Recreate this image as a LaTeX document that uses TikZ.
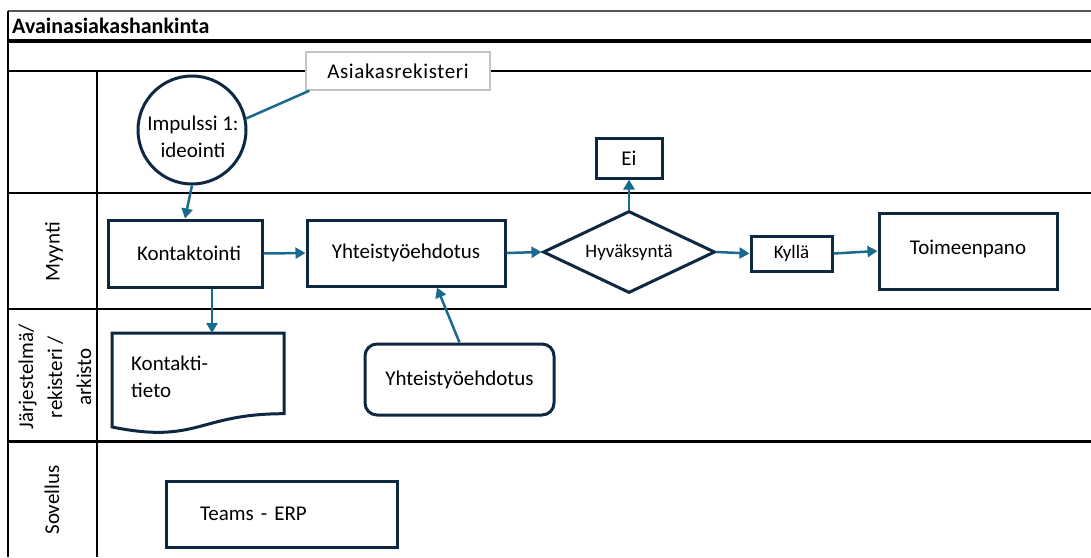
\documentclass[tikz,border=0pt]{standalone}
\usepackage{fontspec}
\setmainfont{Carlito}
\usetikzlibrary{arrows.meta,shapes.geometric}
\definecolor{boxline}{HTML}{0E2841}
\definecolor{flow}{HTML}{1A6A8E}
\definecolor{lanegray}{HTML}{555555}
\definecolor{calloutgray}{HTML}{C4C4C4}

\begin{document}
\begin{tikzpicture}[x=1pt,y=-1pt,
  lane/.style={line width=2pt,black},
  txt/.style={font=\fontsize{21}{27}\selectfont},
  smalltxt/.style={font=\fontsize{19}{23}\selectfont},
  box/.style={draw=boxline,line width=3pt,fill=white,rectangle,inner sep=0pt,txt},
  flowline/.style={draw=flow,line width=2.5pt},
  flowarrow/.style={flowline,-{Triangle[length=10pt,width=11pt]}},
  lanelabel/.style={rotate=90,txt,align=center,inner sep=0pt},
]
\useasboundingbox (0,0) rectangle (1091,557);

% swimlane frame
\draw[line width=1.5pt,lanegray] (8,11) -- (1091,11);
\draw[line width=3.5pt] (8,41) -- (1091,41);
\draw[lane] (8,71) -- (1091,71);
\draw[lane] (8,193) -- (1091,193);
\draw[line width=2.5pt] (8,309) -- (1091,309);
\draw[line width=3pt] (8,441) -- (1091,441);
\draw[lane] (8,11) -- (8,557);
\draw[lane] (96.5,71) -- (96.5,557);

\node[anchor=base west,inner sep=0pt,font=\bfseries\fontsize{22}{26}\selectfont] (title) at (12,33) {Avainasiakashankinta};

% lane titles
\node[lanelabel] (lmyynti) at (54,252) {Myynti};
\node[lanelabel,font=\fontsize{21}{29}\selectfont] (ljarj) at (55,377) {Järjestelmä/\\rekisteri /\\arkisto};
\node[lanelabel] (lsov) at (52,500) {Sovellus};

% process shapes
\node[draw=calloutgray,line width=1.5pt,fill=white,minimum width=184pt,minimum height=38pt,inner sep=0pt,txt] (asi) at (398,71) {\addfontfeatures{LetterSpace=3}Asiakasrekisteri};
\node[circle,draw=boxline,line width=3pt,fill=white,minimum size=108pt,inner sep=0pt] (imp) at (192,130) {};
\node[txt,align=center,inner sep=0pt] (imptext) at (193,137) {Impulssi 1:\\ideointi};

\node[box,minimum width=154pt,minimum height=67pt] (kont) at (185,253.5) {\hspace{8pt}Kontaktointi};
\node[box,minimum width=198pt,minimum height=66pt] (yht1) at (406,253) {Yhteistyöehdotus};
\node[box,diamond,aspect=2.1,minimum width=172pt,minimum height=82pt,smalltxt] (dia) at (629,252) {Hyväksyntä};
\node[box,minimum width=66pt,minimum height=40pt] (ei) at (629,158) {Ei};
\node[box,minimum width=81pt,minimum height=35pt,smalltxt] (kyl) at (791.5,253.5) {Kyllä};
\node[box,minimum width=178pt,minimum height=76pt] (toim) at (968,251) {\raisebox{8pt}{Toimeenpano}};

% document shape
\draw[boxline,line width=3pt,fill=white] (112,333) -- (284,333) -- (284,413.7)
  .. controls (198,413.7) and (198,444.4) .. (112,427) -- cycle;
\coordinate (doctop) at (212,333);
\node[txt,align=left,anchor=west,inner sep=0pt] (doctext) at (131,376.5) {Kontakti-\\tieto};

\node[box,rounded corners=12pt,minimum width=189pt,minimum height=71pt] (yht2) at (459.5,379.5) {Yhteistyöehdotus};

\node[box,minimum height=66pt,text width=163pt,align=left,inner xsep=34pt] (teams) at (281.5,514) {Teams - ERP};

% connectors
\draw[flowline] (imp.12) -- ([xshift=4pt]asi.south west);
\draw[flowarrow] (imp.south) -- (kont.north);
\draw[flowarrow] (kont.east) -- (yht1.west);
\draw[flowarrow] (yht1.east) -- (dia.west);
\draw[flowarrow] (dia.north) -- (ei.south);
\draw[flowarrow] (dia.east) -- (kyl.west);
\draw[flowarrow] (kyl.east) -- (toim.west);
\draw[flowarrow] (kont.south -| doctop) -- (doctop);
\draw[flowarrow] (yht2.north) -- ([xshift=31pt]yht1.south);

\end{tikzpicture}
\end{document}
